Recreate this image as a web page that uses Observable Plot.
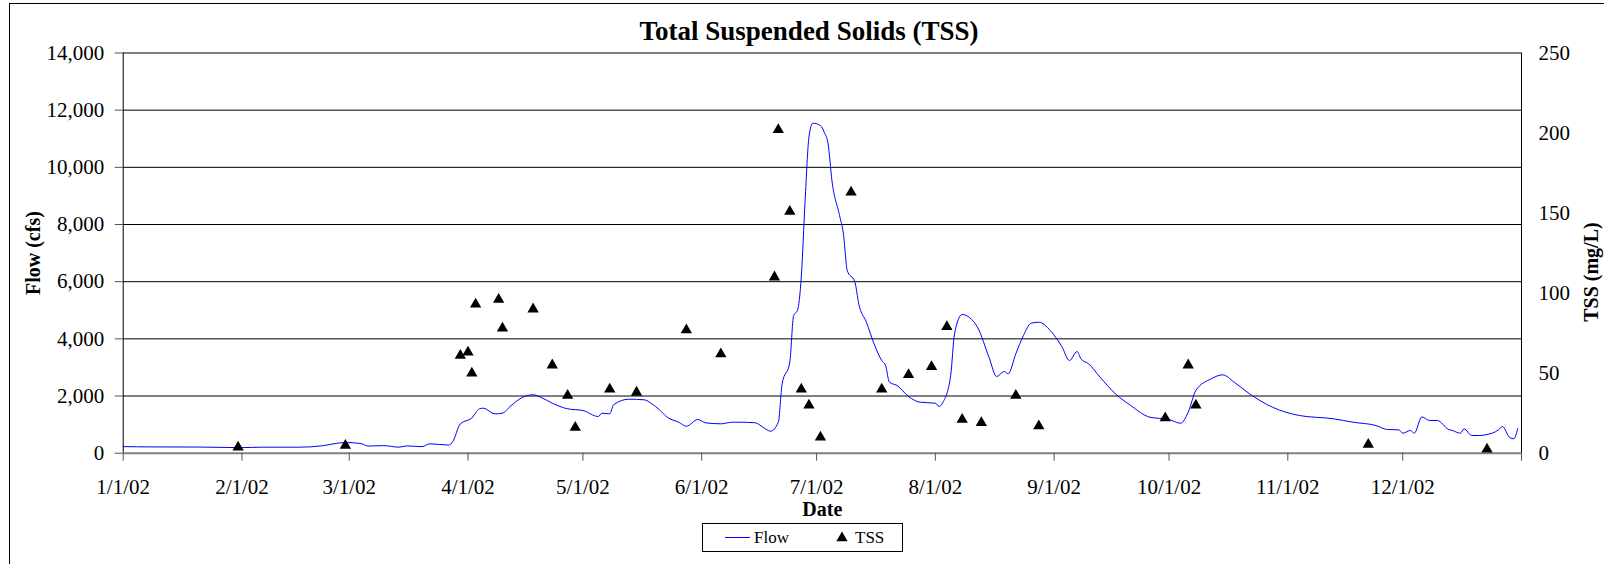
<!DOCTYPE html>
<html>
<head>
<meta charset="utf-8">
<script src="https://cdn.jsdelivr.net/npm/d3@7"></script>
<script src="https://cdn.jsdelivr.net/npm/@observablehq/plot@0.6"></script>
<style>
  html, body { margin: 0; padding: 0; background: #fff; }
  #wrap { position: relative; width: 1604px; height: 564px; overflow: hidden; font-family: "Liberation Serif", "Times New Roman", serif; }
  #border { position: absolute; left: 9px; top: 3px; width: 1700px; height: 700px; border: 1.5px solid #000; }
  #title { position: absolute; left: 0; top: 16px; width: 1618px; text-align: center; font-weight: bold; font-size: 27px; line-height: 30px; color: #000; }
  #chart { position: absolute; left: 0; top: 40px; }
  #legend { position: absolute; left: 702px; top: 523px; width: 199px; height: 27px; border: 1px solid #000; background: #fff; }
  #chart svg text { font-family: "Liberation Serif", "Times New Roman", serif; }
</style>
</head>
<body>
<div id="wrap">
  <div id="border"></div>
  <div id="title"></div>
  <div id="chart"></div>
  <div id="legend"></div>
</div>
<script>
// ---- Data ----
const flowDates = [
  "2002-01-01","2002-01-08","2002-01-21","2002-02-01","2002-02-06","2002-02-16","2002-02-22","2002-02-25","2002-02-28",
  "2002-03-04","2002-03-06","2002-03-10","2002-03-14","2002-03-16","2002-03-20","2002-03-22","2002-03-27","2002-03-28","2002-03-30",
  "2002-04-02","2002-04-04","2002-04-05","2002-04-08","2002-04-10","2002-04-12","2002-04-15","2002-04-18","2002-04-20","2002-04-23","2002-04-27",
  "2002-05-01","2002-05-05","2002-05-06","2002-05-08","2002-05-09","2002-05-13","2002-05-17","2002-05-19","2002-05-21","2002-05-23","2002-05-26","2002-05-28","2002-05-31",
  "2002-06-02","2002-06-06","2002-06-09","2002-06-11","2002-06-15","2002-06-17","2002-06-19","2002-06-21","2002-06-22","2002-06-24","2002-06-25","2002-06-26","2002-06-27","2002-06-28","2002-06-29","2002-06-30",
  "2002-07-02","2002-07-03","2002-07-04","2002-07-05","2002-07-07","2002-07-08","2002-07-09","2002-07-11","2002-07-12","2002-07-14","2002-07-16","2002-07-18","2002-07-19","2002-07-20","2002-07-22","2002-07-25","2002-07-28",
  "2002-08-01","2002-08-02","2002-08-03","2002-08-05","2002-08-06","2002-08-08","2002-08-10","2002-08-12","2002-08-15","2002-08-17","2002-08-19","2002-08-20","2002-08-22","2002-08-24","2002-08-26","2002-08-28","2002-08-31",
  "2002-09-02","2002-09-03","2002-09-05","2002-09-07","2002-09-08","2002-09-10","2002-09-13","2002-09-17","2002-09-21","2002-09-26",
  "2002-10-01","2002-10-04","2002-10-06","2002-10-08","2002-10-12","2002-10-15","2002-10-18","2002-10-22","2002-10-28",
  "2002-11-04","2002-11-13","2002-11-18","2002-11-24","2002-11-27","2002-11-30",
  "2002-12-01","2002-12-03","2002-12-04","2002-12-06","2002-12-08","2002-12-10","2002-12-13","2002-12-14","2002-12-16","2002-12-17","2002-12-19","2002-12-21","2002-12-23","2002-12-26","2002-12-27","2002-12-29","2002-12-30","2002-12-31"
];
const flowValues = [
  230,220,215,195,210,210,260,330,374,
  340,250,265,210,255,230,329,285,400,1028,
  1230,1553,1575,1377,1400,1634,1938,2043,1959,1749,1553,
  1494,1284,1400,1377,1693,1889,1868,1728,1518,1259,1084,944,1179,
  1063,1028,1084,1084,1063,909,770,1084,2428,3183,4817,4992,6157,8840,11054,11543,
  11463,11229,10823,9539,8315,7674,6391,5982,5226,4583,3827,3243,3068,2484,2368,1983,1784,
  1749,1634,1784,2718,4177,4852,4736,4407,3358,2683,2858,2777,3477,4117,4547,4582,4292,
  3942,3732,3243,3557,3302,3127,2658,2078,1669,1259,
  1179,1049,1434,2193,2603,2742,2484,2078,1609,
  1319,1203,1084,969,829,818,
  700,794,700,1270,1144,1144,829,794,700,853,619,619,654,818,934,539,504,853
];
const tssDates = [
  "2002-01-31","2002-02-28","2002-03-30","2002-04-01","2002-04-02","2002-04-03","2002-04-09","2002-04-10","2002-04-18",
  "2002-04-23","2002-04-27","2002-04-29","2002-05-08","2002-05-15","2002-05-28","2002-06-06","2002-06-20","2002-06-21",
  "2002-06-24","2002-06-27","2002-06-29","2002-07-02","2002-07-10","2002-07-18","2002-07-25","2002-07-31","2002-08-04",
  "2002-08-08","2002-08-13","2002-08-22","2002-08-28","2002-09-30","2002-10-06","2002-10-08","2002-11-22","2002-12-23"
];
const tssValues = [
  3.7,4.8,61,63,50,93,96,78,90,
  55,36,16,40,38,77,62,110,202,
  151,40,30,10,163,40,49,54,79,
  21,19,36,17,22,55,30,5.4,2.5
];
const flowTicks = [0, 2000, 4000, 6000, 8000, 10000, 12000, 14000];
const tssTicks = [0, 50, 100, 150, 200, 250];
const dateTicks = ["2002-01-01","2002-02-01","2002-03-01","2002-04-01","2002-05-01","2002-06-01","2002-07-01",
                   "2002-08-01","2002-09-01","2002-10-01","2002-11-01","2002-12-01","2003-01-01"];
const xDomain = ["2002-01-01", "2003-01-01"];
const titleText = "Total Suspended Solids (TSS)";
const flowLabel = "Flow (cfs)";
const tssLabel = "TSS (mg/L)";
const dateLabel = "Date";
const seriesNames = ["Flow", "TSS"];

// ---- Build ----
const parse = d3.utcParse("%Y-%m-%d");
const flow = flowDates.map((d, i) => ({date: parse(d), value: flowValues[i]}));
const tss = tssDates.map((d, i) => ({date: parse(d), value: tssValues[i]}));
const ratio = flowTicks[flowTicks.length - 1] / tssTicks[tssTicks.length - 1];
const fmtDate = d3.utcFormat("%-m/%-d/%y");
const domainDates = xDomain.map(parse);
const serif = "'Liberation Serif', 'Times New Roman', serif";

document.getElementById("title").textContent = titleText;

const chart = Plot.plot({
  width: 1604,
  height: 480,
  marginLeft: 122.7,
  marginRight: 83,
  marginTop: 12.5,
  marginBottom: 67.3,
  style: `font-family: ${serif}; background: transparent; overflow: visible; color: #000;`,
  x: {type: "utc", domain: domainDates},
  y: {domain: [flowTicks[0], flowTicks[flowTicks.length - 1]]},
  marks: [
    Plot.ruleY(flowTicks.slice(1), {stroke: "#000", strokeWidth: 1}),
    Plot.ruleX(domainDates, {stroke: "#000", strokeWidth: 1}),
    Plot.ruleY([0], {stroke: "#808080", strokeWidth: 2}),
    Plot.axisY({anchor: "left", ticks: flowTicks, tickFormat: d3.format(","), tickSize: 8, tickPadding: 11, fontSize: 21, fontFamily: serif, label: null, stroke: "#555"}),
    Plot.axisY({anchor: "right", ticks: tssTicks.map(v => v * ratio), tickFormat: d => String(Math.round(d / ratio)), tickSize: 0, tickPadding: 17, fontSize: 21, fontFamily: serif, label: null}),
    Plot.axisX({anchor: "bottom", ticks: dateTicks.map(parse), tickFormat: d => d.getUTCFullYear() > 2002 ? "" : fmtDate(d), tickSize: 8, tickPadding: 17.5, fontSize: 21, fontFamily: serif, label: null, stroke: "#555"}),
    Plot.text([flowLabel], {text: d => d, frameAnchor: "left", textAnchor: "middle", lineAnchor: "middle", dx: -90, rotate: -90, fontWeight: "bold", fontSize: 20, fontFamily: serif}),
    Plot.text([tssLabel], {text: d => d, frameAnchor: "right", textAnchor: "middle", lineAnchor: "middle", dx: 70, dy: 19, rotate: -90, fontWeight: "bold", fontSize: 20, fontFamily: serif}),
    Plot.text([dateLabel], {text: d => d, frameAnchor: "bottom", lineAnchor: "bottom", dy: 63, fontWeight: "bold", fontSize: 20, fontFamily: serif}),
    Plot.line(flow, {x: "date", y: "value", stroke: "#0000ff", strokeWidth: 1, curve: "monotone-x"}),
    Plot.dot(tss, {x: "date", y: d => d.value * ratio, symbol: "triangle", fill: "#000", stroke: "none", r: 4.2})
  ]
});
document.getElementById("chart").appendChild(chart);

// ---- Legend ----
const lg = d3.select("#legend").append("svg").attr("width", 199).attr("height", 27);
lg.append("line").attr("x1", 22).attr("x2", 47).attr("y1", 13.5).attr("y2", 13.5).attr("stroke", "#0000ff").attr("stroke-width", 1);
lg.append("text").attr("x", 51).attr("y", 19).attr("font-family", serif).attr("font-size", 17).text(seriesNames[0]);
lg.append("path").attr("d", d3.symbol(d3.symbolTriangle, Math.PI * 4.2 * 4.2)()).attr("transform", "translate(139,14)").attr("fill", "#000");
lg.append("text").attr("x", 152).attr("y", 19).attr("font-family", serif).attr("font-size", 17).text(seriesNames[1]);
</script>
</body>
</html>
